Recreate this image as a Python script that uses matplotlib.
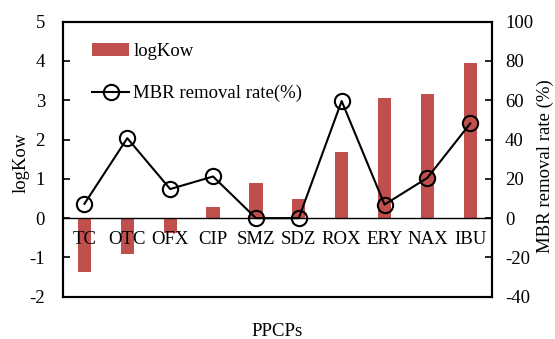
import matplotlib
matplotlib.use("Agg")
import matplotlib.pyplot as plt
import numpy as np

categories = ["TC", "OTC", "OFX", "CIP", "SMZ", "SDZ", "ROX", "ERY", "NAX", "IBU"]
logkow = [-1.37, -0.91, -0.38, 0.28, 0.89, 0.48, 1.69, 3.06, 3.17, 3.96]
removal = [7.3, 40.7, 14.8, 21.2, 0.0, 0.0, 59.6, 6.9, 20.5, 48.2]

plt.rcParams['font.family'] = ['Liberation Serif', 'DejaVu Serif']
plt.rcParams['font.size'] = 13.5
plt.rcParams['axes.unicode_minus'] = False

fig = plt.figure(figsize=(5.55, 3.39), dpi=100)
ax = fig.add_axes([63/555, 1-296.7/339, (491.7-63)/555, (296.7-21.7)/339])
x = np.arange(len(categories))
bars = ax.bar(x, logkow, width=0.31, color='#C0504D', label='logKow', zorder=2)
ax.axhline(0, color='black', lw=1.0, zorder=3)
ax.set_xlim(-0.5, len(categories)-0.5)
ax.set_ylim(-2, 5)
ax.set_yticks(range(-2, 6))
ax.set_yticklabels([str(v) for v in range(-2, 6)])
ax.set_xticks([])
ax.tick_params(axis='y', direction='in', length=5, width=1.2, pad=13, labelsize=13.5)
for s in ax.spines.values():
    s.set_linewidth(1.5)
for i, c in enumerate(categories):
    ax.text(i, -0.65, c, ha='center', va='baseline', fontsize=13.5, zorder=4)

ax2 = ax.twinx()
line, = ax2.plot(x, removal, color='black', lw=1.5, marker='o', markersize=11,
                 markerfacecolor='none', markeredgecolor='black', markeredgewidth=1.5,
                 label='MBR removal rate(%)', zorder=5)
ax2.set_ylim(-40, 100)
ax2.set_yticks(range(-40, 101, 20))
ax2.set_yticklabels([str(v) for v in range(-40, 101, 20)])
ax2.tick_params(axis='y', direction='in', length=5, width=1.2, pad=9.6, labelsize=13.5)
for s in ax2.spines.values():
    s.set_linewidth(1.5)

fig.text(21/555, 1-163/339, 'logKow', rotation=90, ha='center', va='center', fontsize=13.5)
fig.text(545/555, 1-166/339, 'MBR removal rate (%)', rotation=90, ha='center', va='center', fontsize=13.5)
fig.text(277/555, 1-336/339, 'PPCPs', ha='center', va='baseline', fontsize=13.5)

leg = ax.legend([bars, line], ['logKow', 'MBR removal rate(%)'], loc='upper left',
                bbox_to_anchor=(0.028, 0.985), frameon=False, fontsize=13.5,
                handlelength=2.0, handletextpad=0.2, labelspacing=1.35, borderaxespad=0.5)

fig.savefig('out.png', dpi=100)
